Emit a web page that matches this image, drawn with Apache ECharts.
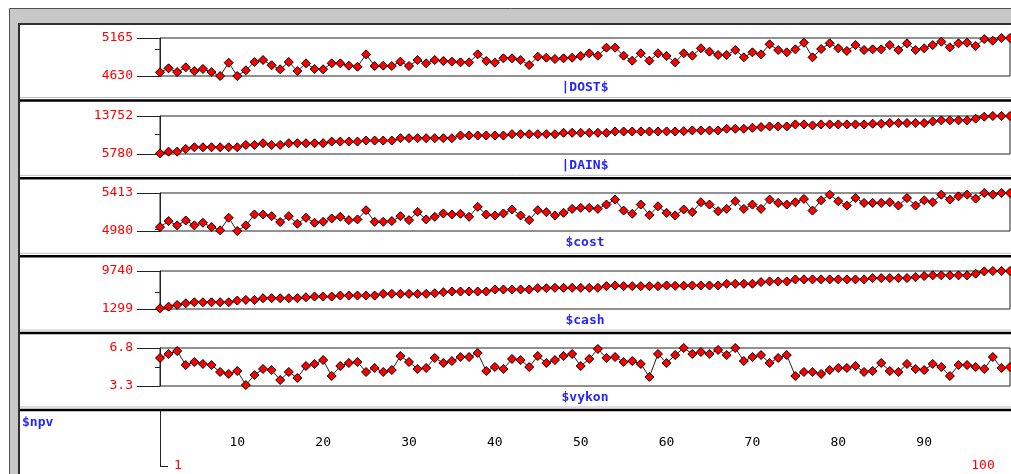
<!DOCTYPE html>
<html>
<head>
<meta charset="utf-8">
<script src="https://cdn.jsdelivr.net/npm/echarts@6/dist/echarts.min.js"></script>
<style>
html,body{margin:0;padding:0;background:#fff;}
#chart{width:1011px;height:474px;}
</style>
</head>
<body>
<div id="chart"></div>
<script>
const categories = [1,2,3,4,5,6,7,8,9,10,11,12,13,14,15,16,17,18,19,20,21,22,23,24,25,26,27,28,29,30,31,32,33,34,35,36,37,38,39,40,41,42,43,44,45,46,47,48,49,50,51,52,53,54,55,56,57,58,59,60,61,62,63,64,65,66,67,68,69,70,71,72,73,74,75,76,77,78,79,80,81,82,83,84,85,86,87,88,89,90,91,92,93,94,95,96,97,98,99,100];

const dost = [4682,4738,4686,4752,4700,4729,4686,4630,4817,4630,4710,4827,4855,4781,4724,4827,4700,4808,4729,4724,4808,
4808,4775,4761,4935,4771,4775,4771,4832,4771,4855,4808,4855,4841,4832,4822,4822,4935,4841,4818,4879,4879,4855,4785,4902,4888,4869,4879,4888,4912,4949,4916,5029,5029,4916,4846,4949,4846,4949,4912,
4822,4949,4916,5020,4973,4926,4926,4996,4893,4963,4935,5076,4996,4963,5005,5099,4893,5010,5090,5020,4982,5066,4996,5005,5005,5066,4996,5090,4996,5020,5066,5113,5034,5090,5099,5052,5150,5127,5165,5165];

const dain = [5921,6274,6274,6838,7191,7191,7191,7191,7191,7191,7685,7685,8038,7685,7685,8038,8038,8038,8038,8038,8390,
8390,8390,8390,8602,8602,8602,8602,9096,9096,9096,9096,9096,9096,9096,9660,9660,9660,9660,9660,9660,9942,9942,9942,9942,9942,9942,10225,10225,10225,10225,10225,10225,10500,10500,10500,10500,10500,10500,10520,
10500,10577,10719,10719,10719,10719,11071,11071,11071,11283,11424,11565,11565,11565,11988,11988,11777,11988,11988,11988,11988,11988,11988,12130,12130,12271,12271,12271,12271,12271,12623,12835,12835,12835,12835,13188,13600,13752,13752,13752];

const cost = [5025,5093,5044,5100,5044,5074,5025,4988,5131,4980,5044,5168,5168,5149,5082,5149,5063,5131,5074,5085,5123,
5142,5104,5112,5217,5085,5085,5093,5149,5104,5198,5112,5142,5180,5168,5176,5142,5255,5168,5157,5180,5225,5157,5104,5217,5195,5157,5187,5232,5244,5244,5232,5281,5338,5213,5176,5281,5161,5262,5187,
5157,5225,5195,5308,5281,5206,5232,5319,5232,5281,5232,5338,5300,5281,5308,5345,5213,5330,5394,5319,5270,5356,5300,5300,5300,5308,5270,5356,5270,5330,5308,5394,5338,5375,5394,5349,5413,5394,5413,5413];

const cash = [1448,1822,2195,2569,2793,2793,2793,2793,2793,3167,3316,3316,3689,3689,3689,3689,3689,3914,4063,4063,4063,
4287,4287,4287,4287,4287,4661,4661,4661,4661,4661,4661,4810,5034,5183,5183,5183,5183,5183,5632,5632,5632,5632,5632,5930,5930,6005,6005,6005,6005,6005,6005,6379,6528,6379,6379,6379,6379,6379,6528,
6450,6480,6528,6528,6528,6528,6902,6902,6902,6902,7275,7424,7424,7424,7873,7873,7873,7873,7873,7873,7873,7873,7873,8171,8171,8171,8171,8171,8396,8620,8769,8769,8769,8769,8769,9143,9650,9740,9740,9740];

const vykon = [5.88,6.25,6.52,5.23,5.51,5.33,5.23,4.59,4.41,4.68,
3.39,4.31,4.87,4.77,3.85,4.59,4.04,5.14,5.33,5.69,
4.22,5.14,5.42,5.51,4.59,4.96,4.59,4.77,6.06,5.51,
4.87,4.96,5.88,5.42,5.60,5.97,5.97,6.34,4.68,5.05,
4.87,5.79,5.69,5.05,6.06,5.42,5.69,6.06,6.25,5.14,
5.79,6.71,5.88,5.97,5.51,5.60,5.33,4.13,6.25,5.42,
6.15,6.80,6.25,6.43,6.25,6.62,6.15,6.80,5.60,5.97,
6.15,5.42,5.88,6.15,4.22,4.59,4.59,4.41,4.77,4.96,
4.96,5.14,4.59,4.68,5.42,4.68,4.59,5.33,4.87,4.77,
5.33,5.05,4.22,5.23,5.23,5.05,4.87,5.97,4.96,5.05];

const panelNames = ['|DOST$','|DAIN$','$cost','$cash','$vykon'];
const panelData = [dost, dain, cost, cash, vykon];
const yMins = [4630, 5780, 4980, 1299, 3.3];
const yMaxs = [5165, 13752, 5413, 9740, 6.8];
const midTicks = [5000, 10000, 5000, 5000, 5];
const xTickLabels = ['10','20','30','40','50','60','70','80','90'];
const xEndLabels = ['1','100'];
const bottomName = '$npv';

const FONT = 'DejaVu Sans Mono';
const RED = '#ff0000';
const BLUE = '#2424ff';
const INK = '#222';
const panelTops = [38, 116, 193, 271, 348];
const PH = 38;

const grids = [], xAxes = [], yAxes = [], series = [];
for (let i = 0; i < 5; i++) {
  grids.push({left:160, width:850, top:panelTops[i], height:PH, show:true, borderColor:INK, borderWidth:1, backgroundColor:'transparent', containLabel:false, outerBoundsMode:'none'});
  xAxes.push({
    gridIndex:i, type:'category', boundaryGap:false, data:categories, position:'bottom',
    axisLine:{show:false}, axisTick:{show:false}, axisLabel:{show:false}, splitLine:{show:false},
    name:panelNames[i], nameLocation:'middle', nameGap:5,
    nameTextStyle:{color:BLUE, fontFamily:FONT, fontSize:13, fontWeight:'bold'}
  });
  yAxes.push({
    gridIndex:i, type:'value', min:yMins[i], max:yMaxs[i], position:'left',
    axisLine:{show:true, lineStyle:{color:INK, width:1}},
    axisTick:{show:true, customValues:[yMins[i], yMaxs[i]], length:23, lineStyle:{color:INK, width:1}},
    axisLabel:{show:true, customValues:[yMins[i], yMaxs[i]], margin:27, color:RED, fontFamily:FONT, fontSize:13, formatter:v => String(v)},
    splitLine:{show:false}
  });
  yAxes.push({
    gridIndex:i, type:'value', min:yMins[i], max:yMaxs[i], position:'left',
    axisLine:{show:false},
    axisTick:{show:true, customValues:[midTicks[i]], length:5, lineStyle:{color:INK, width:1}},
    axisLabel:{show:false}, splitLine:{show:false}
  });
  series.push({
    type:'line', xAxisIndex:i, yAxisIndex:2*i, data:panelData[i],
    symbol:'diamond', symbolSize:9, showAllSymbol:true, clip:false,
    itemStyle:{color:RED, borderColor:'#000', borderWidth:1},
    lineStyle:{color:INK, width:1},
    emphasis:{disabled:true}, animation:false
  });
}
// bottom panel with the index axis
grids.push({left:160, width:850, top:410, height:56, show:false, containLabel:false, outerBoundsMode:'none'});
xAxes.push({
  gridIndex:5, type:'category', boundaryGap:false, data:categories, position:'bottom', offset:-30,
  axisLine:{show:false}, axisTick:{show:false}, splitLine:{show:false},
  axisLabel:{interval:(idx, val) => xTickLabels.includes(String(val)), margin:0, color:'#000', fontFamily:FONT, fontSize:13}
});
xAxes.push({
  gridIndex:5, type:'category', boundaryGap:false, data:categories, position:'bottom', offset:0,
  axisLine:{show:false}, axisTick:{show:false}, splitLine:{show:false},
  axisLabel:{interval:(idx, val) => xEndLabels.includes(String(val)), margin:-7,
    formatter:v => (String(v) === xEndLabels[0] ? '{a|' + v + '}' : '{b|' + v + '}'),
    rich:{
      a:{color:RED, fontFamily:FONT, fontSize:13, padding:[0,0,0,36]},
      b:{color:RED, fontFamily:FONT, fontSize:13, padding:[0,54,0,0]}
    }}
});
yAxes.push({
  gridIndex:5, type:'value', min:0, max:1, position:'left',
  axisLine:{show:true, lineStyle:{color:INK, width:1}}, axisTick:{show:false}, axisLabel:{show:false}, splitLine:{show:false}
});

const sepYs = [100.5, 178.3, 256.3, 333, 410];
const graphics = [
  {type:'rect', z:-100, shape:{x:9.5, y:8.5, width:1010, height:480}, style:{fill:'#c8c8c8', stroke:'#505050', lineWidth:1}},
  {type:'rect', z:-90, shape:{x:19, y:24, width:1000, height:470}, style:{fill:'#ffffff', stroke:'#303030', lineWidth:2}},
  {type:'line', z:5, shape:{x1:160, y1:466.5, x2:168, y2:466.5}, style:{stroke:INK, lineWidth:1}},
  {type:'text', z:10, left:22, top:416, style:{text:bottomName, fill:BLUE, font:'bold 13px "' + FONT + '"'}}
];
sepYs.forEach(y => {
  graphics.push({type:'line', z:-80, shape:{x1:20, y1:y - 3, x2:1011, y2:y - 3}, style:{stroke:'#c0c0c0', lineWidth:1}});
  graphics.push({type:'line', z:-80, shape:{x1:20, y1:y, x2:1011, y2:y}, style:{stroke:'#000', lineWidth:2.5}});
});

const chart = echarts.init(document.getElementById('chart'), null, {renderer:'canvas'});
chart.setOption({
  animation:false,
  backgroundColor:'#ffffff',
  grid:grids, xAxis:xAxes, yAxis:yAxes, series:series,
  graphic:{elements:graphics},
  tooltip:{show:false}
});
</script>
</body>
</html>
